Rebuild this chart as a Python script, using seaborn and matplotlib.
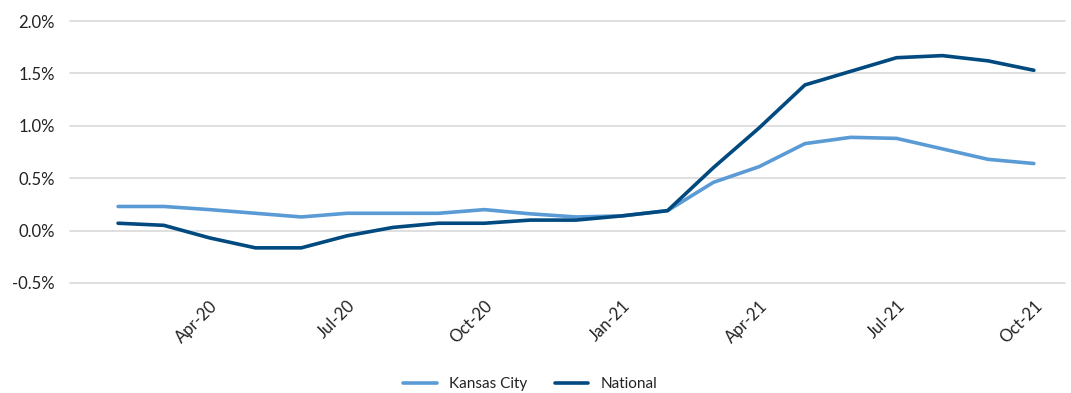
import pandas as pd
import matplotlib.pyplot as plt
import seaborn as sns
from matplotlib.ticker import FuncFormatter

# Monthly values, Feb-20 through Oct-21 (percent)
months = pd.date_range("2020-02-01", "2021-10-01", freq="MS").strftime("%b-%y").tolist()
kansas_city = [0.23, 0.23, 0.20, 0.165, 0.13, 0.165, 0.165, 0.165, 0.20, 0.16, 0.13,
               0.14, 0.19, 0.46, 0.61, 0.83, 0.89, 0.88, 0.78, 0.68, 0.64]
national = [0.07, 0.05, -0.07, -0.165, -0.165, -0.05, 0.03, 0.07, 0.07, 0.10, 0.10,
            0.14, 0.19, 0.60, 0.98, 1.39, 1.52, 1.65, 1.67, 1.62, 1.53]
tick_labels = ["Apr-20", "Jul-20", "Oct-20", "Jan-21", "Apr-21", "Jul-21", "Oct-21"]
y_ticks = [-0.5, 0.0, 0.5, 1.0, 1.5, 2.0]

df = pd.DataFrame({"Month": months, "Kansas City": kansas_city, "National": national})
df["idx"] = range(len(df))
long_df = df.melt(id_vars=["Month", "idx"], var_name="Series", value_name="Value")

sns.set_style("white")
plt.rcParams["font.family"] = ["Lato", "DejaVu Sans"]

fig = plt.figure(figsize=(10.71, 3.93), dpi=100)
ax = fig.add_axes([70 / 1071, 1 - 284 / 393, 995 / 1071, 264 / 393])

# Horizontal gridlines drawn explicitly so the bottom one always shows
for v in y_ticks:
    ax.axhline(v, color="#D9D9D9", linewidth=1.2, zorder=0, clip_on=False)

sns.lineplot(data=long_df, x="idx", y="Value", hue="Series",
             palette={"Kansas City": "#5B9BD5", "National": "#004A80"},
             linewidth=2.6, ax=ax, legend=True)

# Axes styling
ax.set_ylim(-0.51, 2.01)
ax.set_yticks(y_ticks)
ax.yaxis.set_major_formatter(FuncFormatter(lambda v, p: f"{v:.1f}%"))
ax.set_xlim(-1.05, 20.68)
ax.set_xticks([months.index(m) for m in tick_labels])
ax.set_xticklabels(tick_labels, rotation=45, ha="right", rotation_mode="anchor")
for s in ax.spines.values():
    s.set_visible(False)
ax.tick_params(axis="both", length=0, labelsize=12, colors="#222222")
ax.tick_params(axis="y", pad=11)
ax.tick_params(axis="x", pad=10)
ax.set_xlabel("")
ax.set_ylabel("")

# Legend at bottom center
handles, labels = ax.get_legend_handles_labels()
ax.get_legend().remove()
fig.legend(handles, labels, loc="lower center", ncol=2, frameon=False,
           bbox_to_anchor=(0.495, -0.03), fontsize=11, handlelength=2.2,
           columnspacing=1.8, labelcolor="#222222")

plt.savefig("out.png", dpi=100)
